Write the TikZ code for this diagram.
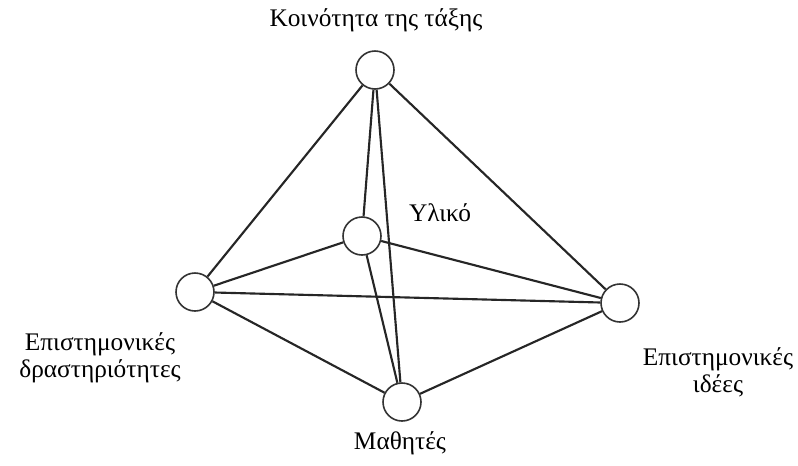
\documentclass[tikz,border=0pt]{standalone}
\usepackage{fontspec}
\setmainfont{Liberation Serif}
\begin{document}
\begin{tikzpicture}[x=0.75pt,y=-0.75pt,
    vertex/.style={circle, draw=black!80, line width=1.2pt, fill=white,
                   minimum size=28.5pt, inner sep=0pt},
    edge/.style={line width=1.6pt, black!85},
    lbl/.style={font=\fontsize{19}{20}\selectfont, align=center, inner sep=0pt}]
    \useasboundingbox (0,0) rectangle (798,465);
    % vertices
    \node[vertex] (koin) at (375,70)  {};
    \node[vertex] (yliko) at (362,236) {};
    \node[vertex] (drast) at (195,292) {};
    \node[vertex] (idees) at (620,303) {};
    \node[vertex] (math) at (402,402) {};
    % edges
    \draw[edge] (koin) -- (drast);
    \draw[edge] (koin) -- (idees);
    \draw[edge] (koin) -- (yliko);
    \draw[edge] (koin) -- (math);
    \draw[edge] (yliko) -- (drast);
    \draw[edge] (yliko) -- (idees);
    \draw[edge] (yliko) -- (math);
    \draw[edge] (drast) -- (idees);
    \draw[edge] (drast) -- (math);
    \draw[edge] (idees) -- (math);
    % labels
    \node[lbl] (tkoin) at (376,20) {Κοινότητα της τάξης};
    \node[lbl] (tyliko) at (440,213) {Υλικό};
    \node[lbl] (tdrast) at (100,358) {Επιστημονικές\\δραστηριότητες};
    \node[lbl] (tidees) at (718,372) {Επιστημονικές\\ιδέες};
    \node[lbl] (tmath) at (400,443) {Μαθητές};
\end{tikzpicture}
\end{document}
